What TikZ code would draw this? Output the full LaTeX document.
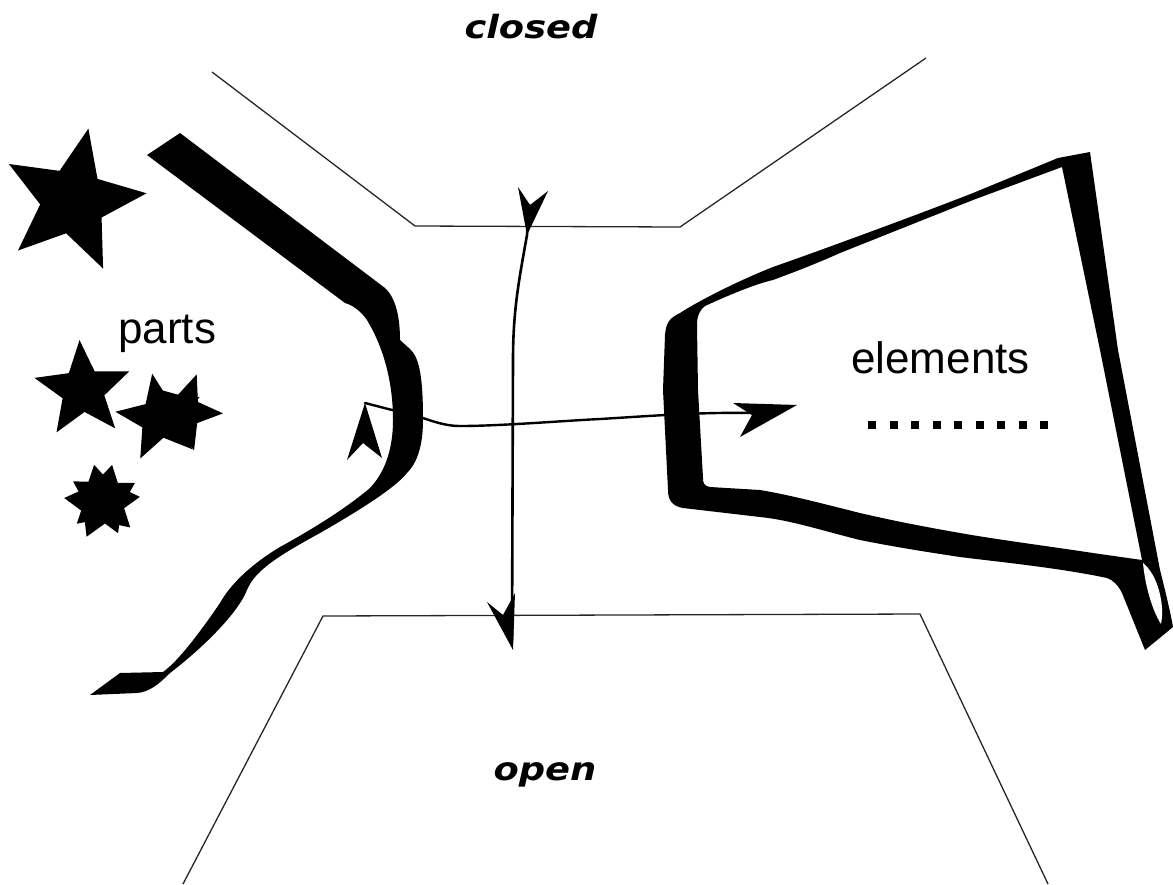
\documentclass[tikz,border=0pt]{standalone}
\usepackage{fontspec}
\usepackage{graphicx}
\newfontfamily\labelfont{Liberation Sans}
\newfontfamily\titlefont{DejaVu Sans}
\newcommand\fivestar[5]{%
  \fill[black] ({#1+#3*cos(#5)},{#2-#3*sin(#5)})
   \foreach \k in {0,...,4}{ -- ({#1+#4*cos(#5+72*\k+36)},{#2-#4*sin(#5+72*\k+36)}) -- ({#1+#3*cos(#5+72*\k+72)},{#2-#3*sin(#5+72*\k+72)}) } -- cycle;}
\begin{document}
\begin{tikzpicture}[x=1pt,y=-1pt,
  thinline/.style={line width=1.3pt, draw=black!85, line join=miter},
  conn/.style={line width=2.6pt, draw=black, line cap=round},
  band/.style={fill=black},
  tip/.style={fill=black},
  lbl/.style={font=\labelfont\fontsize{44}{50}\selectfont, inner sep=0pt, anchor=base west},
  ttl/.style={font=\titlefont\bfseries\itshape\fontsize{32}{36}\selectfont, inner sep=0pt, anchor=base}]
\useasboundingbox (0,0) rectangle (1173,884);

% thin outlines (closed / open)
\draw[thinline] (212,72) -- (415,226) -- (680,227) -- (926,58);
\draw[thinline] (183,884) -- (323,616) -- (920,614) -- (1048,884);

% labels
\node[ttl] (closed) at (531,38) {\scalebox{1.15}[1]{closed}};
\node[ttl] (open) at (545,780) {\scalebox{1.15}[1]{open}};
\node[lbl] (parts) at (118,343) {parts};
\node[lbl] (elements) at (851,373) {elements};

% dotted row
\foreach \k in {0,...,8} \fill ({868+21.5*\k},421) rectangle ++(8,8);

% stars
\fivestar{73}{201}{74}{33}{78}
\fivestar{83}{390}{50}{22}{94}
\fivestar{160}{418}{45}{20}{100}
\fivestar{183}{412}{40}{18}{70}
\fivestar{102}{502}{38}{21}{174}
\fivestar{104}{500}{36}{20}{5}

% left curved band
\fill[band] (147,155) -- (180,133) -- (385,288)
  .. controls (396,298) and (400,318) .. (400,340) -- (410,349)
  .. controls (420,358) and (423,380) .. (423,420)
  .. controls (423,450) and (415,465) .. (407,473)
  .. controls (395,488) and (360,510) .. (320,533)
  .. controls (280,555) and (255,570) .. (247,590)
  .. controls (237,615) and (200,650) .. (170,673)
  .. controls (160,683) and (150,692) .. (137,693)
  -- (90,695) -- (120,673) -- (163,672)
  .. controls (180,660) and (205,625) .. (220,603)
  .. controls (230,585) and (250,565) .. (280,547)
  .. controls (320,525) and (350,505) .. (370,488)
  .. controls (387,470) and (393,445) .. (393,420)
  .. controls (393,385) and (385,350) .. (367,320)
  .. controls (360,310) and (352,305) .. (345,303) -- cycle;

% right frame
\fill[band, even odd rule]
  (663,390) -- (665,335) .. controls (666,322) and (670,318) .. (680,313)
  .. controls (700,300) and (740,280) .. (773,267)
  .. controls (830,247) and (930,210) .. (973,193) -- (1058,158) -- (1090,152)
  -- (1118,350) -- (1160,570)
  .. controls (1165,590) and (1170,610) .. (1173,627) -- (1145,650) -- (1122,593)
  .. controls (1118,585) and (1113,580) .. (1107,578)
  .. controls (1060,568) and (1000,562) .. (960,557)
  .. controls (920,551) and (890,546) .. (860,540)
  .. controls (820,530) and (790,520) .. (760,517) -- (683,508)
  .. controls (672,506) and (668,500) .. (668,490) -- cycle
  (698,390) -- (697,325) .. controls (697,315) and (700,310) .. (705,306)
  .. controls (740,290) and (760,283) .. (773,280)
  .. controls (800,270) and (820,262) .. (840,253) -- (973,200) -- (1062,167)
  -- (1100,350) -- (1142,560) -- (1093,553)
  .. controls (1040,545) and (1000,540) .. (960,533)
  .. controls (920,526) and (890,520) .. (860,513)
  .. controls (820,503) and (790,495) .. (760,490) -- (710,487)
  .. controls (704,486) and (703,483) .. (703,478) -- cycle;
\fill[white] (1143,563) .. controls (1158,575) and (1165,605) .. (1161,624)
  .. controls (1152,610) and (1145,585) .. (1143,563) -- cycle;

% connectors
\coordinate (hstart) at (365,403);
\coordinate (hend) at (752,413);
\coordinate (vstart) at (529,205);
\coordinate (vend) at (512,640);
\draw[conn, line width=2.4pt] (hstart) -- (423,418)
  .. controls (440,424) and (450,426) .. (460,426)
  .. controls (500,426) and (560,421) .. (600,419)
  .. controls (650,416) and (700,412) .. (hend);
\draw[conn] (vstart) -- (527,235) .. controls (519,280) and (513,310) .. (513,360) -- (vend);

% arrowheads
\fill[tip] (hstart) -- (382,458) -- (363,443) -- (347,460) -- cycle;
\fill[tip] (733,403) -- (797,405) -- (740,437) -- (752,415) -- cycle;
\fill[tip] (518,187) -- (530,205) -- (548,191) -- (527,235) -- cycle;
\fill[tip] (487,602) -- (503,615) -- (515,593) -- (513,650) -- cycle;
\end{tikzpicture}
\end{document}
